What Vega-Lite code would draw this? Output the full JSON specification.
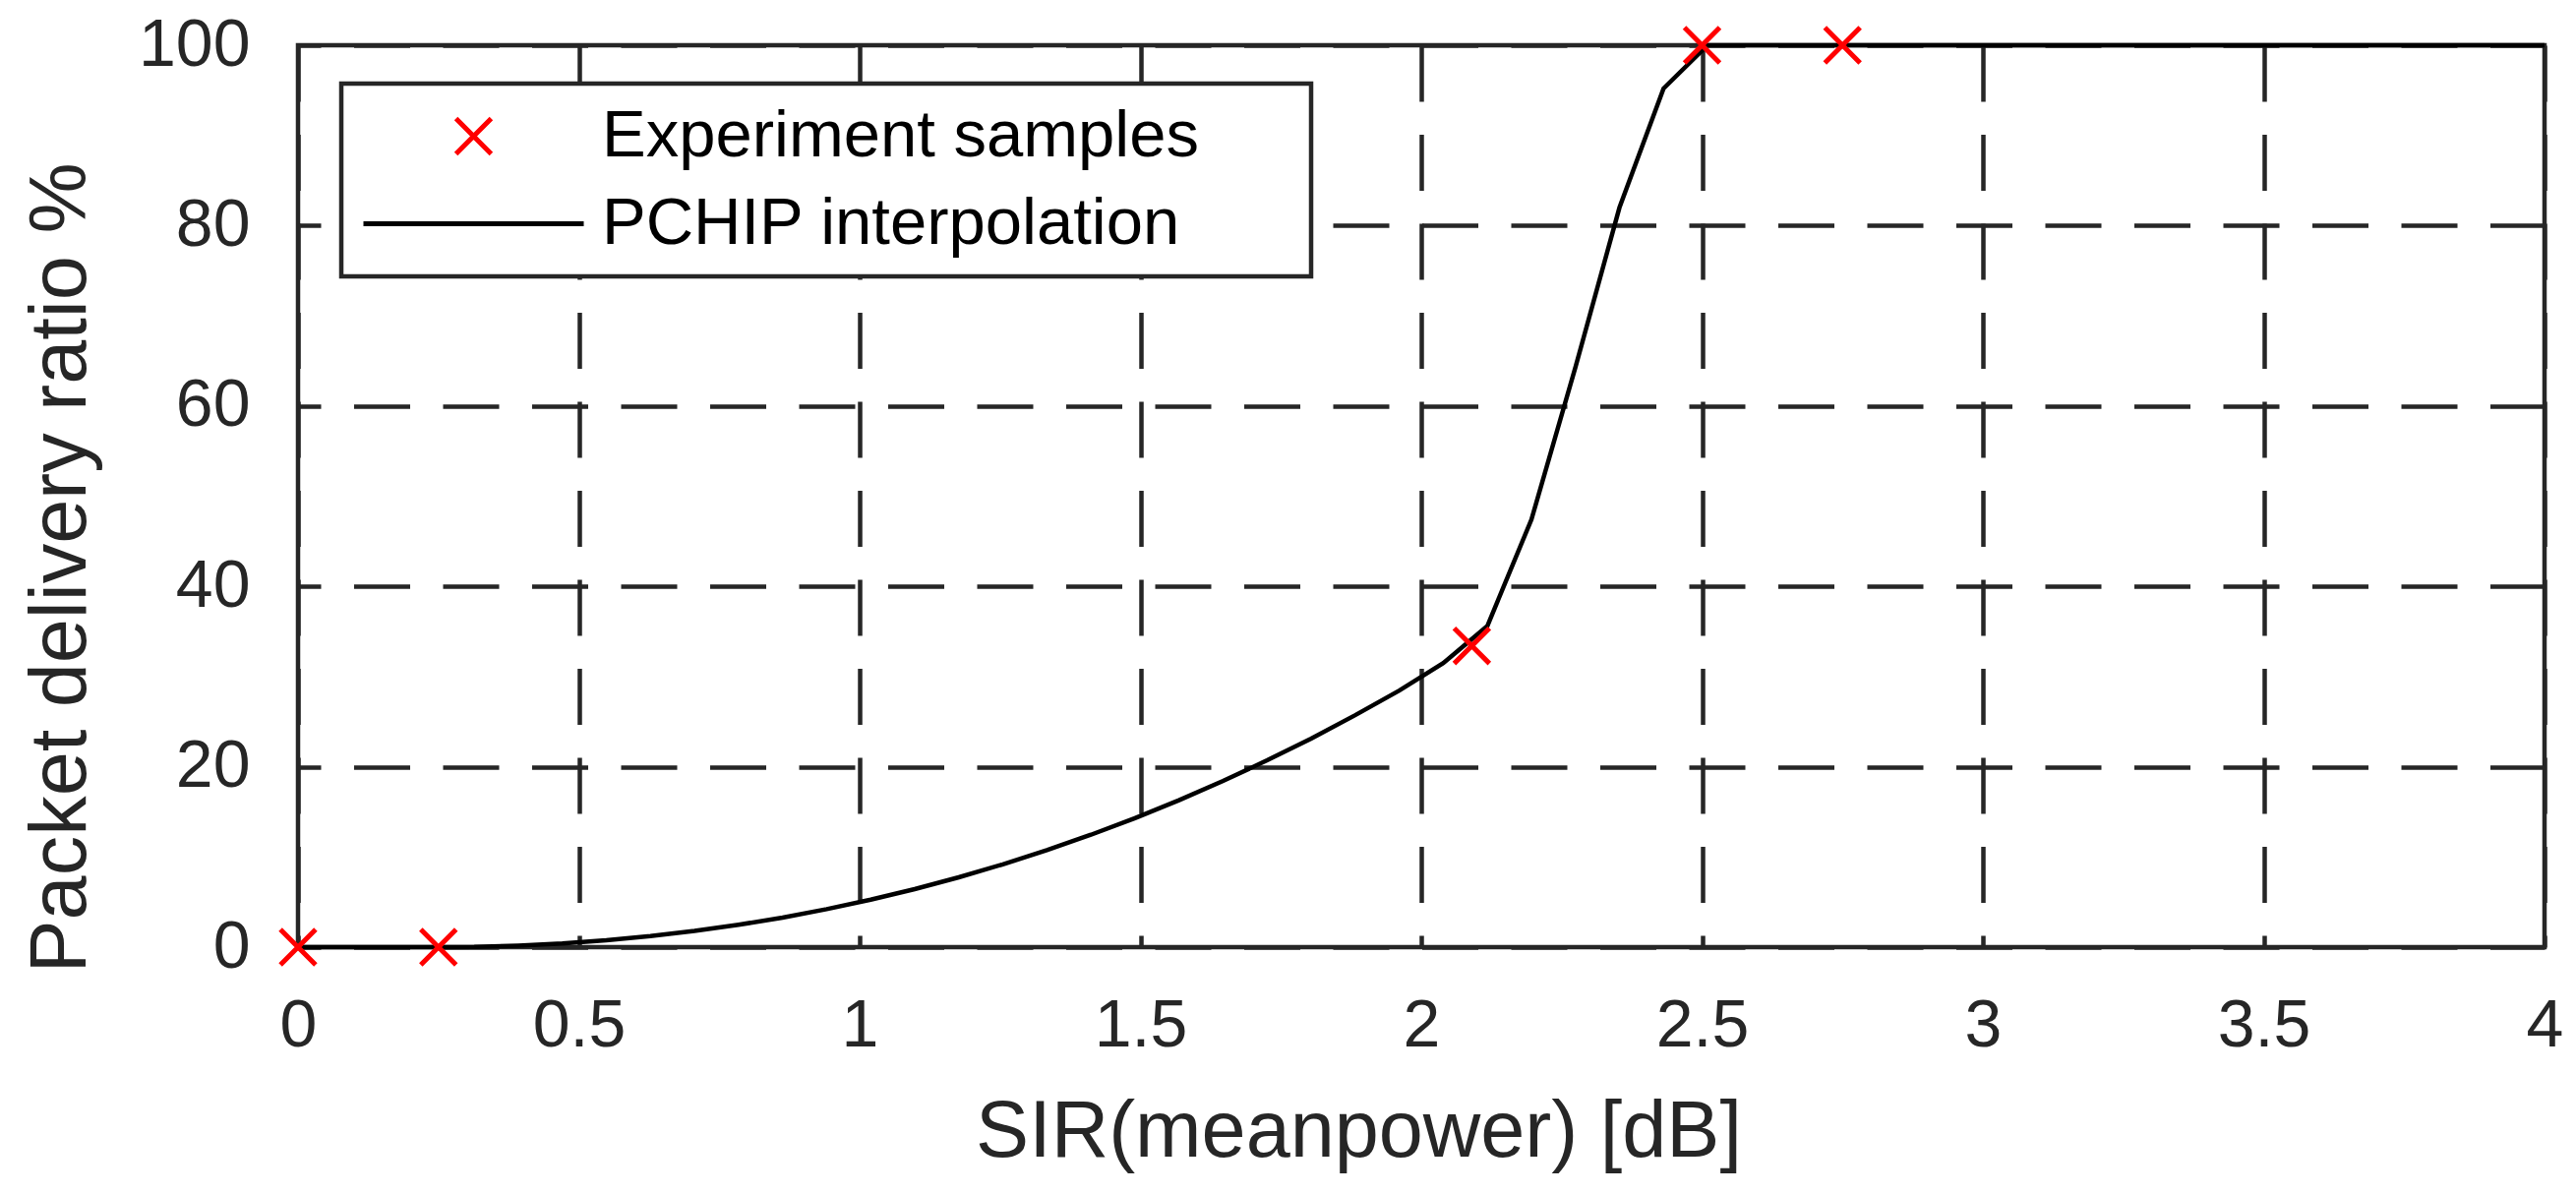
{
  "$schema": "https://vega.github.io/schema/vega-lite/v6.json",
  "width": 2284,
  "height": 917,
  "autosize": {"type": "none"},
  "padding": {"left": 303, "top": 46, "right": 32, "bottom": 251},
  "background": "white",
  "datasets": {
    "curve": [
      {"x": 0, "y": 0}, {"x": 0.0784, "y": 0}, {"x": 0.1569, "y": 0}, {"x": 0.2353, "y": 0},
      {"x": 0.3137, "y": 0.03}, {"x": 0.3922, "y": 0.17}, {"x": 0.4706, "y": 0.41}, {"x": 0.549, "y": 0.76},
      {"x": 0.6275, "y": 1.22}, {"x": 0.7059, "y": 1.79}, {"x": 0.7843, "y": 2.48}, {"x": 0.8627, "y": 3.28},
      {"x": 0.9412, "y": 4.21}, {"x": 1.0196, "y": 5.26}, {"x": 1.098, "y": 6.44}, {"x": 1.1765, "y": 7.74},
      {"x": 1.2549, "y": 9.18}, {"x": 1.3333, "y": 10.75}, {"x": 1.4118, "y": 12.46}, {"x": 1.4902, "y": 14.3},
      {"x": 1.5686, "y": 16.29}, {"x": 1.6471, "y": 18.43}, {"x": 1.7255, "y": 20.71}, {"x": 1.8039, "y": 23.13},
      {"x": 1.8824, "y": 25.72}, {"x": 1.9608, "y": 28.45}, {"x": 2.0392, "y": 31.5}, {"x": 2.1176, "y": 35.6},
      {"x": 2.1961, "y": 47.4}, {"x": 2.2745, "y": 64.3}, {"x": 2.3529, "y": 82.0}, {"x": 2.4314, "y": 95.2},
      {"x": 2.5098, "y": 100}, {"x": 2.5882, "y": 100}, {"x": 2.6667, "y": 100}, {"x": 2.7451, "y": 100},
      {"x": 2.8235, "y": 100}, {"x": 2.902, "y": 100}, {"x": 2.9804, "y": 100}, {"x": 3.0588, "y": 100},
      {"x": 3.1373, "y": 100}, {"x": 3.2157, "y": 100}, {"x": 3.2941, "y": 100}, {"x": 3.3725, "y": 100},
      {"x": 3.451, "y": 100}, {"x": 3.5294, "y": 100}, {"x": 3.6078, "y": 100}, {"x": 3.6863, "y": 100},
      {"x": 3.7647, "y": 100}, {"x": 3.8431, "y": 100}, {"x": 3.9216, "y": 100}, {"x": 4.0, "y": 100}
    ],
    "samples": [
      {"x": 0, "y": 0}, {"x": 0.25, "y": 0}, {"x": 2.09, "y": 33.4}, {"x": 2.5, "y": 100}, {"x": 2.75, "y": 100}
    ]
  },
  "config": {
    "font": "Liberation Sans",
    "view": {"stroke": "#262626", "strokeWidth": 4.5},
    "axis": {
      "domain": false,
      "ticks": false,
      "grid": true,
      "gridColor": "#262626",
      "gridWidth": 4.5,
      "gridOpacity": 1,
      "gridDash": [57, 33.5],
      "labelFont": "Liberation Sans",
      "labelFontSize": 68,
      "labelColor": "#262626",
      "labelFlush": false,
      "labelOverlap": false,
      "labelBound": false,
      "titleFont": "Liberation Sans",
      "titleFontSize": 81,
      "titleFontWeight": "normal",
      "titleColor": "#262626"
    },
    "legend": {"strokeWidth": 4.5, "labelLimit": 0}
  },
  "layer": [
    {
      "data": {"name": "curve"},
      "transform": [{"calculate": "'PCHIP interpolation'", "as": "series"}],
      "mark": {"type": "line", "strokeWidth": 4.5, "clip": false},
      "encoding": {
        "x": {
          "field": "x", "type": "quantitative",
          "scale": {"domain": [0, 4], "nice": false, "zero": false},
          "axis": {
            "values": [0, 0.5, 1, 1.5, 2, 2.5, 3, 3.5, 4],
            "format": "~g",
            "labelPadding": 46,
            "title": "SIR(meanpower) [dB]",
            "titleX": 1078, "titleY": 212,
            "titleAlign": "center", "titleBaseline": "alphabetic"
          }
        },
        "y": {
          "field": "y", "type": "quantitative",
          "scale": {"domain": [0, 100], "nice": false},
          "axis": {
            "values": [0, 20, 40, 60, 80, 100],
            "format": "d",
            "labelPadding": 49,
            "gridDashOffset": 34,
            "title": "Packet delivery ratio %",
            "titleX": -217, "titleY": 531, "titleAngle": 270,
            "titleAlign": "center", "titleBaseline": "alphabetic"
          }
        },
        "color": {
          "field": "series", "type": "nominal",
          "scale": {"domain": ["Experiment samples", "PCHIP interpolation"], "range": ["#FF0000", "#000000"]},
          "legend": {
            "orient": "none", "legendX": 44, "legendY": 39, "title": null,
            "padding": 20, "strokeColor": "#262626", "fillColor": "white",
            "symbolSize": 50176, "symbolStrokeWidth": 5, "symbolOpacity": 1,
            "clipHeight": 67, "rowPadding": 21, "labelOffset": 16, "labelLimit": 0,
            "labelFontSize": 67, "labelColor": "#000000", "labelFont": "Liberation Sans",
            "labelExpr": "datum.label + '\u00a0\u00a0\u00a0\u00a0\u00a0\u200b'"
          }
        }
      }
    },
    {
      "data": {"name": "samples"},
      "transform": [{"calculate": "'Experiment samples'", "as": "series"}],
      "mark": {"type": "point", "filled": false, "strokeWidth": 5, "size": 50176, "opacity": 1, "clip": false},
      "encoding": {
        "x": {"field": "x", "type": "quantitative"},
        "y": {"field": "y", "type": "quantitative"},
        "color": {
          "field": "series", "type": "nominal",
          "legend": {
            "orient": "none", "legendX": 44, "legendY": 39, "title": null,
            "padding": 20, "strokeColor": "#262626", "fillColor": "white",
            "symbolSize": 50176, "symbolStrokeWidth": 5, "symbolOpacity": 1,
            "clipHeight": 67, "rowPadding": 21, "labelOffset": 16, "labelLimit": 0,
            "labelFontSize": 67, "labelColor": "#000000", "labelFont": "Liberation Sans",
            "labelExpr": "datum.label + '\u00a0\u00a0\u00a0\u00a0\u00a0\u200b'"
          }
        },
        "shape": {
          "field": "series", "type": "nominal",
          "scale": {
            "domain": ["Experiment samples", "PCHIP interpolation"],
            "range": ["M-0.16,-0.16L0.16,0.16M-0.16,0.16L0.16,-0.16", "M-1,0L1,0"]
          },
          "legend": {
            "orient": "none", "legendX": 44, "legendY": 39, "title": null,
            "padding": 20, "strokeColor": "#262626", "fillColor": "white",
            "symbolSize": 50176, "symbolStrokeWidth": 5, "symbolOpacity": 1,
            "clipHeight": 67, "rowPadding": 21, "labelOffset": 16, "labelLimit": 0,
            "labelFontSize": 67, "labelColor": "#000000", "labelFont": "Liberation Sans",
            "labelExpr": "datum.label + '\u00a0\u00a0\u00a0\u00a0\u00a0\u200b'"
          }
        }
      }
    }
  ]
}
